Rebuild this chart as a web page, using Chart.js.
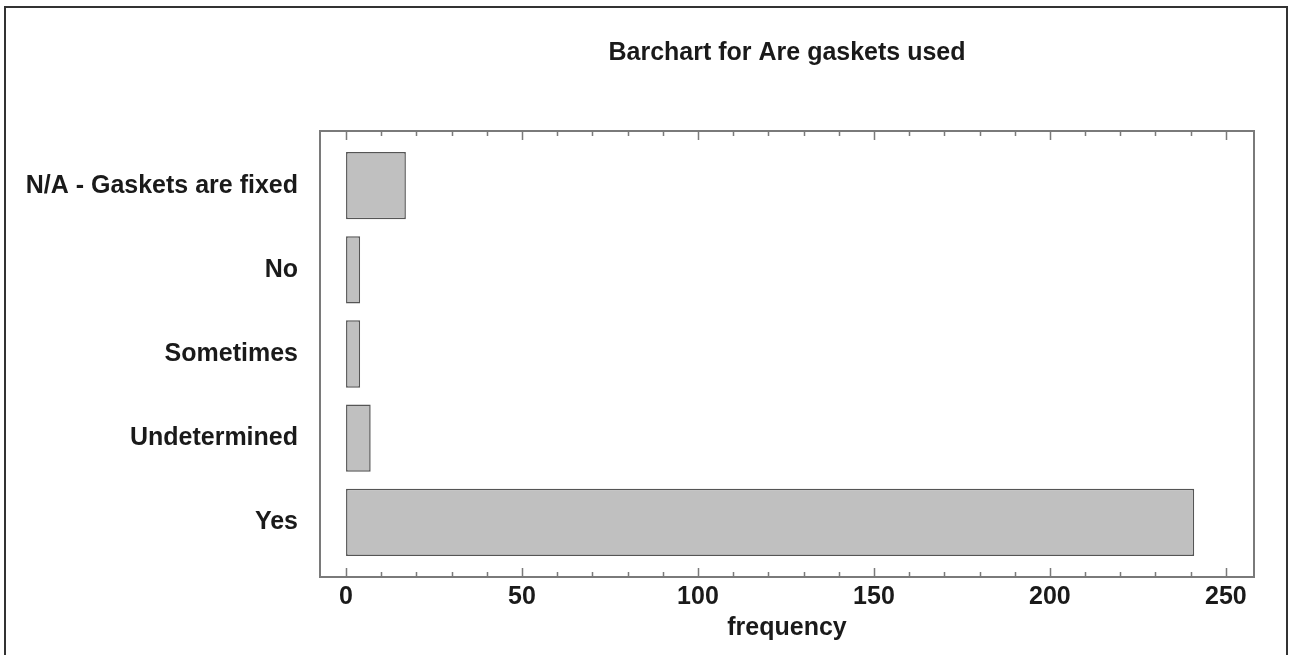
<!DOCTYPE html>
<html>
<head>
<meta charset="utf-8">
<script src="https://cdn.jsdelivr.net/npm/chart.js@4"></script>
<style>
    html, body { margin: 0; padding: 0; background: #fff; }
    #wrap { position: relative; width: 1293px; height: 655px; }
    #frame {
        position: absolute; left: 4px; top: 6px; width: 1284px; height: 660px;
        border: 2px solid #333; box-sizing: border-box; pointer-events: none;
    }
</style>
</head>
<body>
<div id="wrap">
    <canvas id="chart" width="1293" height="655"></canvas>
    <div id="frame"></div>
</div>
<script>
// Barchart for Are gaskets used

const categories = ['N/A - Gaskets are fixed', 'No', 'Sometimes', 'Undetermined', 'Yes'];
const frequencies = [17, 4, 4, 7, 241];
const xTickLabels = [0, 50, 100, 150, 200, 250];
const minorStep = 10;

const FONT = '"Liberation Sans", Arial, sans-serif';

// title centred over the plot frame, plus the frame and inward tick marks
const framePlugin = {
    id: 'frame',
    afterDraw(chart) {
        const ctx = chart.ctx;
        const a = chart.chartArea;
        const x = chart.scales.x;

        ctx.save();
        ctx.strokeStyle = '#7a7a7a';
        ctx.lineWidth = 2;
        ctx.strokeRect(a.left, a.top, a.right - a.left, a.bottom - a.top);

        ctx.lineWidth = 1.5;
        const last = xTickLabels[xTickLabels.length - 1];
        for (let v = 0; v <= last; v += minorStep) {
            const px = Math.round(x.getPixelForValue(v)) + 0.5;
            const len = xTickLabels.includes(v) ? 9 : 5;
            ctx.beginPath();
            ctx.moveTo(px, a.bottom);
            ctx.lineTo(px, a.bottom - len);
            ctx.moveTo(px, a.top);
            ctx.lineTo(px, a.top + len);
            ctx.stroke();
        }

        ctx.fillStyle = '#1a1a1a';
        ctx.font = 'bold 25px ' + FONT;
        ctx.textAlign = 'center';
        ctx.textBaseline = 'middle';
        ctx.fillText('Barchart for Are gaskets used', (a.left + a.right) / 2, 53);
        ctx.restore();
    }
};

function renderChart() {
    const ctx = document.getElementById('chart');
    if (!ctx) return;

    new Chart(ctx, {
        type: 'bar',
        data: {
            datasets: [{
                label: 'frequency',
                data: frequencies.map((f, i) => ({ x: f, y: i })),
                backgroundColor: '#c0c0c0',
                borderColor: '#555555',
                borderWidth: 1.5,
                borderSkipped: false,
                categoryPercentage: 1,
                barPercentage: 0.8
            }]
        },
        options: {
            indexAxis: 'y',
            responsive: false,
            animation: false,
            layout: {
                padding: { left: 0, top: 131, right: 39, bottom: 0 }
            },
            plugins: {
                legend: { display: false },
                title: { display: false },
                tooltip: { enabled: false }
            },
            scales: {
                x: {
                    type: 'linear',
                    min: -7.4,
                    max: 258,
                    afterFit(scale) { scale.height = 78; },
                    border: { display: false },
                    grid: { display: false, drawTicks: false },
                    ticks: {
                        stepSize: 50,
                        includeBounds: false,
                        padding: 5,
                        color: '#1a1a1a',
                        font: { family: FONT, size: 25, weight: 'bold' }
                    },
                    title: {
                        display: true,
                        text: 'frequency',
                        color: '#1a1a1a',
                        padding: { top: 0, bottom: 12 },
                        font: { family: FONT, size: 25, weight: 'bold' }
                    }
                },
                y: {
                    type: 'linear',
                    reverse: true,
                    offset: false,
                    min: -0.65,
                    max: 4.65,
                    afterFit(scale) { scale.width = 320; },
                    border: { display: false },
                    grid: { display: false, drawTicks: false },
                    ticks: {
                        stepSize: 1,
                        includeBounds: false,
                        padding: 22,
                        color: '#1a1a1a',
                        font: { family: FONT, size: 25, weight: 'bold' },
                        callback: v => categories[v] ?? ''
                    }
                }
            }
        },
        plugins: [framePlugin]
    });
}

renderChart();
</script>
</body>
</html>
